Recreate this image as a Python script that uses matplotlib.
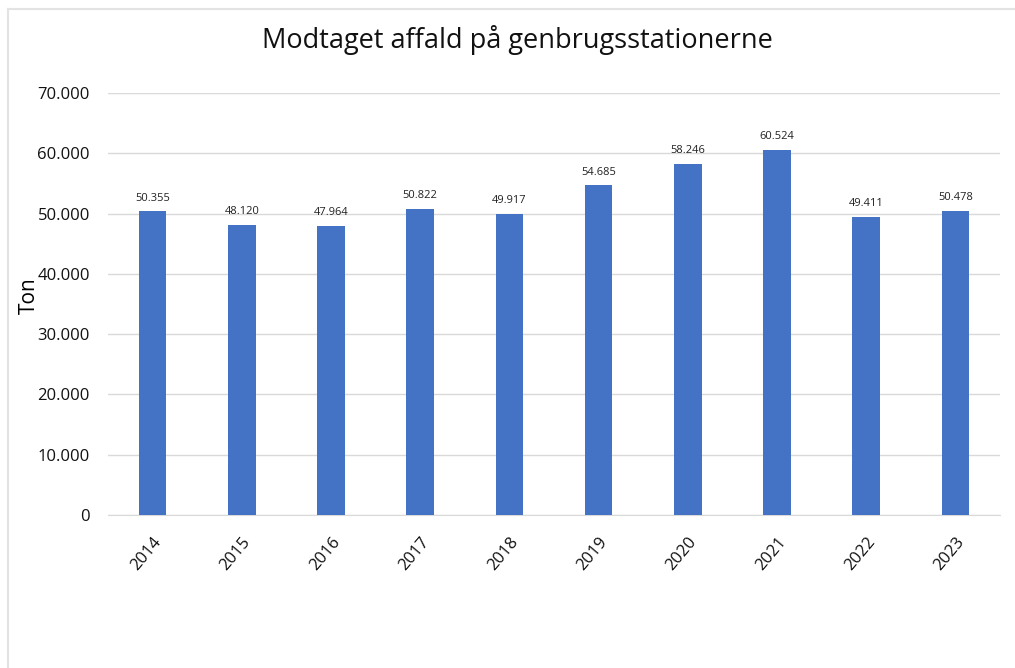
import matplotlib.pyplot as plt
from matplotlib.lines import Line2D
from matplotlib.ticker import FuncFormatter

years = ['2014', '2015', '2016', '2017', '2018', '2019', '2020', '2021', '2022', '2023']
tons = [50355, 48120, 47964, 50822, 49917, 54685, 58246, 60524, 49411, 50478]

plt.rcParams['font.family'] = ['Open Sans', 'DejaVu Sans']


def dk(v):
    return '{:,.0f}'.format(v).replace(',', '.')


fig = plt.figure(figsize=(10.15, 6.68), dpi=100)
ax = fig.add_axes([108 / 1015, 1 - 515 / 668, 892 / 1015, 422 / 668])

x = range(len(years))
bars = ax.bar(x, tons, width=0.31, color='#4472C4', zorder=3)
for b, v in zip(bars, tons):
    ax.text(b.get_x() + b.get_width() / 2, v + 2200, dk(v), ha='center', va='center',
            fontsize=8, color='#222222')

ax.set_xlim(-0.5, len(years) - 0.5)
ax.set_ylim(0, 70000)
ax.set_yticks(range(0, 70001, 10000))
ax.yaxis.set_major_formatter(FuncFormatter(lambda v, p: dk(v)))
ax.set_xticks(list(x))
ax.set_xticklabels(years, rotation=50, ha='right', rotation_mode='anchor')
ax.tick_params(axis='both', length=0, labelsize=12, colors='#111111')
ax.tick_params(axis='y', pad=13)
ax.tick_params(axis='x', pad=14)
ax.grid(axis='y', color='#D9D9D9', linewidth=1, zorder=0)
for s in ['top', 'right', 'left']:
    ax.spines[s].set_visible(False)
ax.spines['bottom'].set_color('#D9D9D9')

ax.set_ylabel('Ton', fontsize=15)
ax.yaxis.set_label_coords(-0.076, 0.52)
fig.text(517 / 1015, 1 - 40 / 668, 'Modtaget affald på genbrugsstationerne', ha='center', va='center',
         fontsize=19.5, color='#111111')

fig.add_artist(Line2D([8 / 1015, 8 / 1015], [0, 1 - 9 / 668], color='#E3E3E3', linewidth=1.5))
fig.add_artist(Line2D([8 / 1015, 1], [1 - 9 / 668, 1 - 9 / 668], color='#E3E3E3', linewidth=1.5))

fig.savefig('out.png', dpi=100)
plt.close('all')
